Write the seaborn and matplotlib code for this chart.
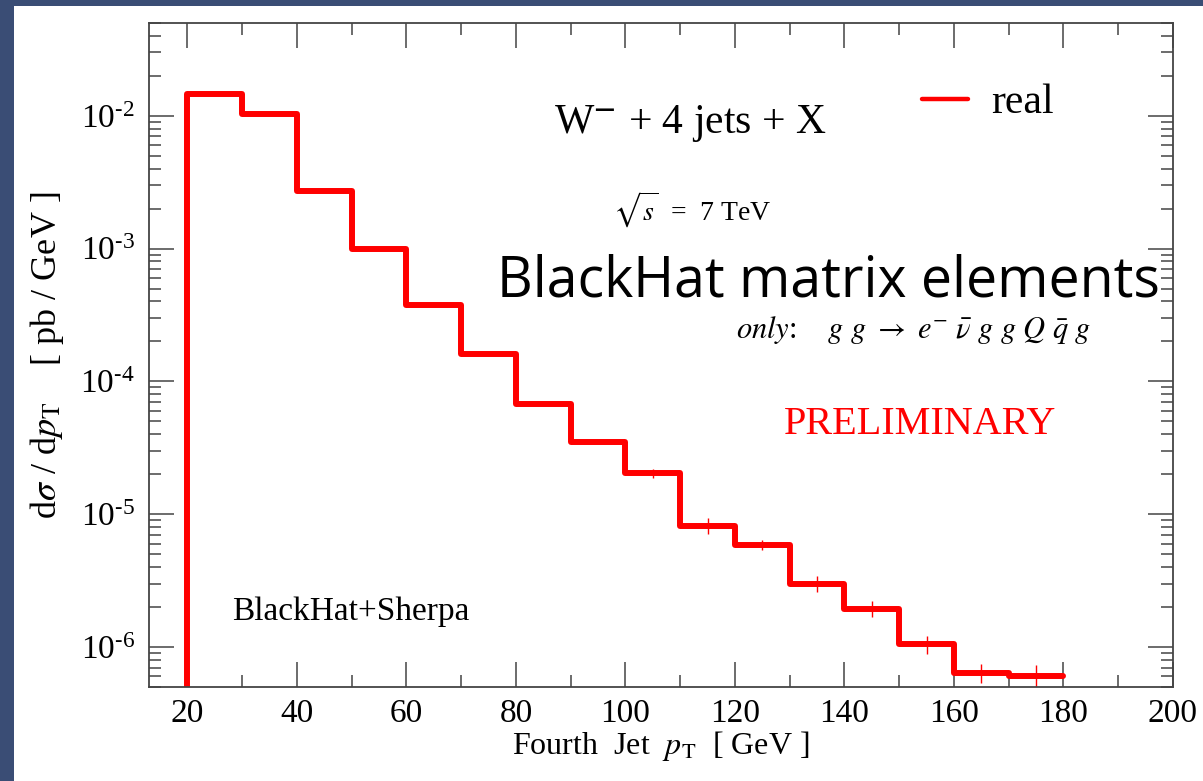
import numpy as np
import pandas as pd
import matplotlib
matplotlib.use("Agg")
import matplotlib.pyplot as plt
import seaborn as sns
from matplotlib.ticker import LogLocator, FixedLocator, NullFormatter, FuncFormatter, MultipleLocator
from matplotlib.patches import Rectangle

# ---------------- data ----------------
bin_edges = [20, 30, 40, 50, 60, 70, 80, 90, 100, 110, 120, 130, 140, 150, 160, 170, 180]
dsigma = [1.47e-2, 1.03e-2, 2.72e-3, 9.9e-4, 3.75e-4, 1.6e-4, 6.8e-5, 3.5e-5, 2.03e-5,
          8.2e-6, 5.9e-6, 3.0e-6, 1.95e-6, 1.05e-6, 6.4e-7, 6.0e-7]
rel_err = [0.005, 0.005, 0.01, 0.01, 0.01, 0.02, 0.02, 0.02, 0.07,
           0.14, 0.09, 0.14, 0.14, 0.16, 0.16, 0.22]
x_ticks = [20, 40, 60, 80, 100, 120, 140, 160, 180, 200]
y_ticks = [1e-6, 1e-5, 1e-4, 1e-3, 1e-2]
x_range = (13, 200)
y_range = (5e-7, 5e-2)

# ---------------- style ----------------
sns.set_theme(style="ticks")
plt.rcParams['font.family'] = ['Liberation Serif', 'DejaVu Serif']
plt.rcParams['mathtext.fontset'] = 'stix'
plt.rcParams['text.color'] = 'black'
plt.rcParams['axes.labelcolor'] = 'black'

W, H = 1203, 781
fig = plt.figure(figsize=(W / 100, H / 100), dpi=100, facecolor='#3a4d75')
fig.patches.append(Rectangle((14 / W, 0), 1 - 14 / W, 1 - 6 / H, transform=fig.transFigure,
                             facecolor='white', edgecolor='none', zorder=-10))
ax = fig.add_axes([149 / W, 1 - 687 / H, (1173 - 149) / W, (687 - 23) / H])
ax.set_zorder(5)
ax.set_facecolor('white')

red = '#ff0000'
# step histogram: start from below the axis at x=20
xs = [bin_edges[0]] + bin_edges
ys = [y_range[0] * 1e-3] + dsigma + [dsigma[-1]]
df = pd.DataFrame({'pt': xs, 'val': ys})
sns.lineplot(data=df, x='pt', y='val', sort=False, drawstyle='steps-post', color=red,
             linewidth=4.3, ax=ax, legend=False, estimator=None)

centers = [(a + b) / 2 for a, b in zip(bin_edges[:-1], bin_edges[1:])]
errs = [v * r for v, r in zip(dsigma, rel_err)]
ax.errorbar(centers, dsigma, yerr=errs, fmt='none', ecolor=red, elinewidth=1.0, capsize=0)

ax.set_yscale('log')
ax.set_xlim(*x_range)
ax.set_ylim(*y_range)

ax.xaxis.set_major_locator(FixedLocator(x_ticks))
ax.xaxis.set_minor_locator(MultipleLocator(10))
ax.yaxis.set_major_locator(FixedLocator(y_ticks))
ax.yaxis.set_minor_locator(LogLocator(base=10, subs=np.arange(2, 10)))
ax.yaxis.set_minor_formatter(NullFormatter())
ax.yaxis.set_major_formatter(FuncFormatter(
    lambda v, p: r'$\mathregular{10^{\text{-}%d}}$' % abs(int(round(np.log10(v))))))

frame_col = '#444444'
for s in ax.spines.values():
    s.set_color(frame_col)
    s.set_linewidth(1.3)
ax.tick_params(which='both', direction='in', top=True, right=True, colors=frame_col,
               labelcolor='black', width=1.1)
ax.tick_params(which='major', length=18, labelsize=24)
ax.tick_params(which='minor', length=8.5)
ax.tick_params(axis='x', which='major', pad=8)
ax.tick_params(axis='y', which='major', pad=10)

ax.set_xlabel(r'Fourth  Jet  $p_{\mathrm{T}}$  [ GeV ]', fontsize=23, labelpad=0)
ax.set_ylabel(r'd$\sigma$ / d$p_{\mathrm{T}}$    [ pb / GeV ]', fontsize=26, labelpad=10)

def fx(px):
    return (px - 149) / 1024

def fy(py):
    return (687 - py) / 664

ax.text(fx(690), fy(123), r'W$^{\mathbf{-}}$ + 4 jets + X', transform=ax.transAxes,
        ha='center', va='center', fontsize=30)
ax.text(fx(692), fy(210), r'$\sqrt{s}$  =  7 TeV', transform=ax.transAxes,
        ha='center', va='center', fontsize=20)
ax.text(fx(828), fy(282), 'BlackHat matrix elements', transform=ax.transAxes,
        ha='center', va='center', fontsize=40, family='Open Sans', color='black')
ax.text(fx(914), fy(330), r'$only$:    $g\ g\ \rightarrow\ e^{-}\ \bar{\nu}\ g\ g\ Q\ \bar{q}\ g$',
        transform=ax.transAxes, ha='center', va='center', fontsize=22)
ax.text(fx(920), fy(424), 'PRELIMINARY', transform=ax.transAxes,
        ha='center', va='center', fontsize=29, color=red)
ax.text(fx(351), fy(612), 'BlackHat+Sherpa', transform=ax.transAxes,
        ha='center', va='center', fontsize=24)

leg = ax.legend(handles=[plt.Line2D([], [], color=red, linewidth=3.2)], labels=['real'],
                frameon=False, loc='center left', bbox_to_anchor=(fx(922), fy(103)),
                borderaxespad=0, borderpad=0, handlelength=1.1, handletextpad=0.55,
                fontsize=30)

fig.savefig('out.png', dpi=100, facecolor=fig.get_facecolor())
